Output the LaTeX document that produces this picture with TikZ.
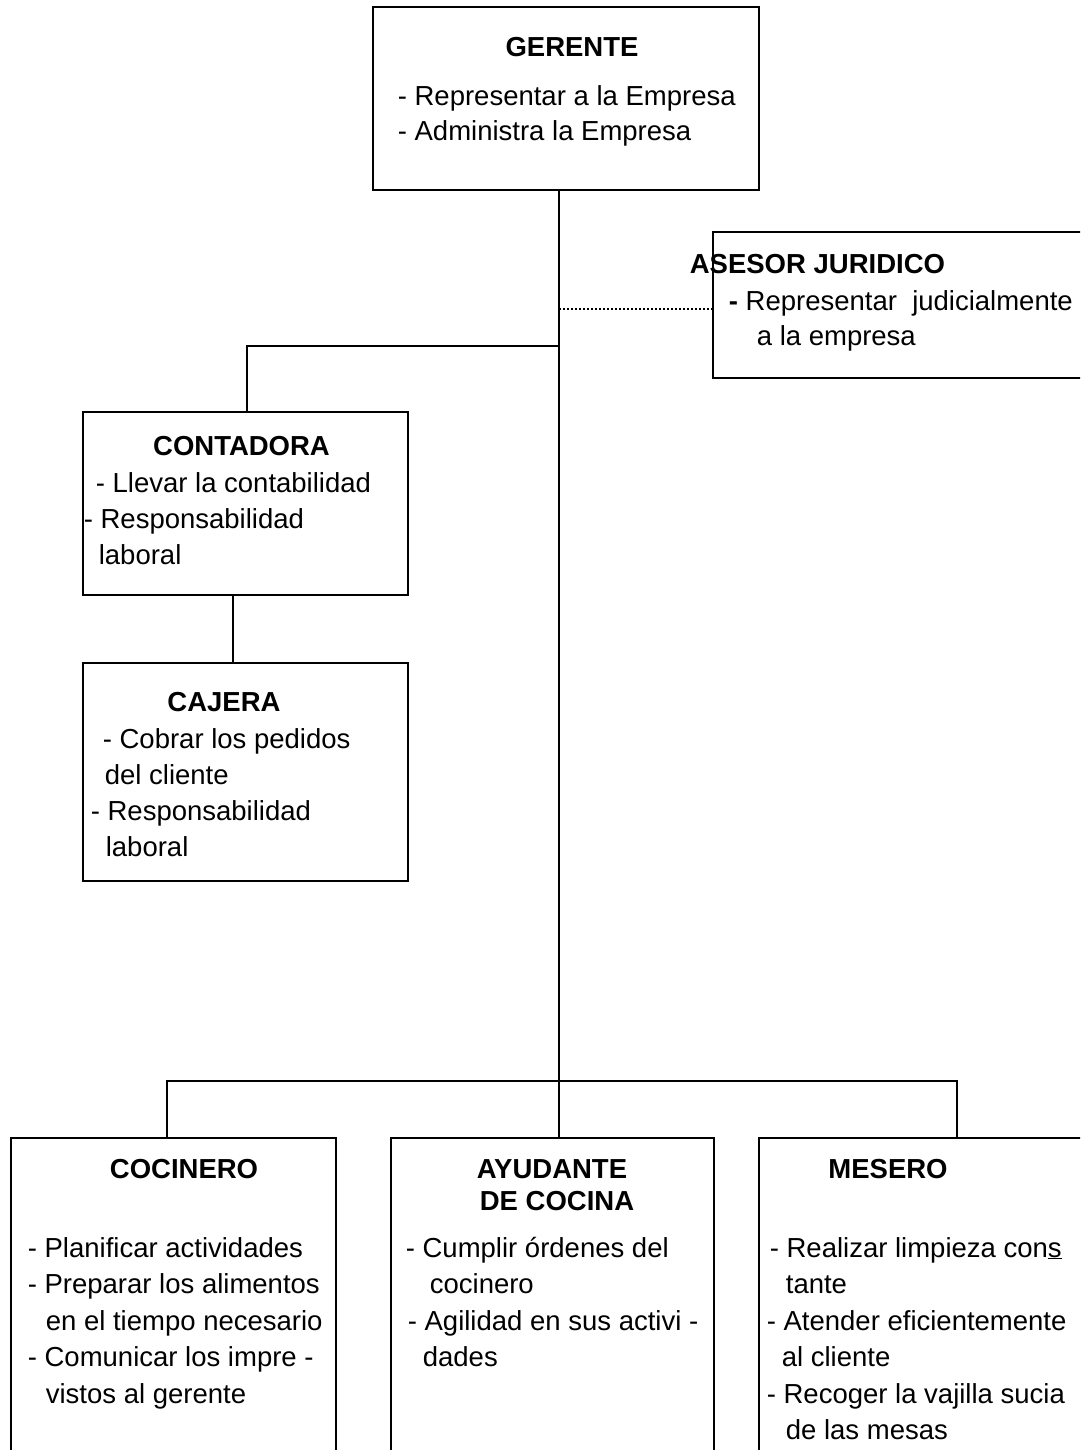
\documentclass[tikz,border=0pt]{standalone}
\usepackage{fontspec}
\setmainfont{Liberation Sans}
\begin{document}
\begin{tikzpicture}[x=1pt,y=-1pt,
  line width=1.7pt,
  box/.style={draw,rectangle,inner sep=0,anchor=north west},
  txt/.style={anchor=base west,inner sep=0,font=\fontsize{27.5}{33}\selectfont},
  ttl/.style={anchor=base,inner sep=0,font=\fontsize{27.5}{33}\selectfont\bfseries},
  dots/.style={line width=1.4pt,dash pattern=on 2pt off 2pt}]
\useasboundingbox (0,0) rectangle (1080,1450);
\clip (0,0) rectangle (1080,1450);

% boxes
\node[box,minimum width=386pt,minimum height=183pt] (ger) at (372,6) {};
\node[box,minimum width=420pt,minimum height=146pt] (ase) at (712,231) {};
\node[box,minimum width=325pt,minimum height=183pt] (con) at (82,411) {};
\node[box,minimum width=325pt,minimum height=218pt] (caj) at (82,662) {};
\node[box,minimum width=325pt,minimum height=400pt] (coc) at (10,1137) {};
\node[box,minimum width=323pt,minimum height=400pt] (ayu) at (390,1137) {};
\node[box,minimum width=420pt,minimum height=400pt] (mes) at (758,1137) {};

% connector points
\coordinate (trunk) at (559,1081);
\coordinate (jd) at (559,309);
\coordinate (cb) at (559,346);
\coordinate (cbl) at (247,346);
\coordinate (cc) at (233,0);
\coordinate (bl) at (167,1081);
\coordinate (br) at (957,1081);

% connectors
\draw (ger.south -| trunk) -- (trunk);
\draw[dots] (jd) -- (jd -| ase.west);
\draw (cb) -- (cbl) -- (cbl |- con.north);
\draw (con.south -| cc) -- (caj.north -| cc);
\draw (coc.north -| bl) -- (bl) -- (br) -- (mes.north -| br);
\draw (trunk) -- (trunk |- ayu.north);

% GERENTE
\node[ttl] (ger-t) at (572,57) {GERENTE};
\node[txt] (ger-1) at (397,106) {- Representar a la Empresa};
\node[txt] (ger-2) at (397,141) {- Administra la Empresa};

% ASESOR JURIDICO
\node[txt,font=\fontsize{27.5}{33}\selectfont\bfseries] (ase-t) at (689,273) {ASESOR JURIDICO};
\node[txt] (ase-1) at (728,310) {\textbf{-} Representar\hspace{0.28em} judicialmente};
\node[txt] (ase-2) at (756,345) {a la empresa};

% CONTADORA
\node[ttl] (con-t) at (241.5,455) {CONTADORA};
\node[txt] (con-1) at (95,492) {- Llevar la contabilidad};
\node[txt] (con-2) at (83,528) {- Responsabilidad};
\node[txt] (con-3) at (98,564) {laboral};

% CAJERA
\node[ttl] (caj-t) at (224,711) {CAJERA};
\node[txt] (caj-1) at (102,748) {- Cobrar los pedidos};
\node[txt] (caj-2) at (104,784) {del cliente};
\node[txt] (caj-3) at (90,820) {- Responsabilidad};
\node[txt] (caj-4) at (105,856) {laboral};

% COCINERO
\node[ttl] (coc-t) at (184,1178) {COCINERO};
\node[txt] (coc-1) at (27,1257) {- Planificar actividades};
\node[txt] (coc-2) at (27,1293) {- Preparar los alimentos};
\node[txt] (coc-3) at (45,1330) {en el tiempo necesario};
\node[txt] (coc-4) at (27,1366) {- Comunicar los impre -};
\node[txt] (coc-5) at (45,1403) {vistos al gerente};

% AYUDANTE DE COCINA
\node[ttl] (ayu-t1) at (552,1178) {AYUDANTE};
\node[ttl] (ayu-t2) at (557,1210) {DE COCINA};
\node[txt] (ayu-1) at (405,1257) {- Cumplir órdenes del};
\node[txt] (ayu-2) at (429,1293) {cocinero};
\node[txt] (ayu-3) at (407,1330) {- Agilidad en sus activi -};
\node[txt] (ayu-4) at (422,1366) {dades};

% MESERO
\node[ttl] (mes-t) at (888,1178) {MESERO};
\node[txt] (mes-1) at (769,1257) {- Realizar limpieza con\underline{s}};
\node[txt] (mes-2) at (785,1293) {tante};
\node[txt] (mes-3) at (766,1330) {- Atender eficientemente};
\node[txt] (mes-4) at (781,1366) {al cliente};
\node[txt] (mes-5) at (766,1403) {- Recoger la vajilla sucia};
\node[txt] (mes-6) at (785,1439) {de las mesas};
\end{tikzpicture}
\end{document}
